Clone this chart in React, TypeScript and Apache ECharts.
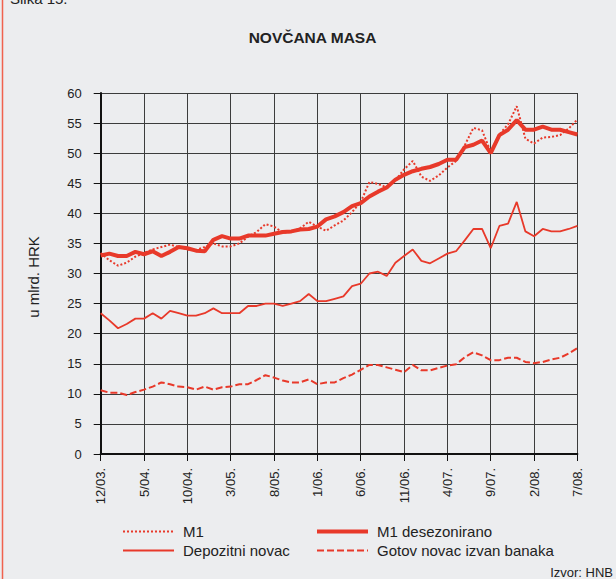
import React, { useEffect, useRef } from "react";
import * as echarts from "echarts";

const CATEGORIES = [
  "12/03.",
  "1/04.", "2/04.", "3/04.", "4/04.", "5/04.", "6/04.", "7/04.", "8/04.", "9/04.", "10/04.", "11/04.", "12/04.",
  "1/05.", "2/05.", "3/05.", "4/05.", "5/05.", "6/05.", "7/05.", "8/05.", "9/05.", "10/05.", "11/05.", "12/05.",
  "1/06.", "2/06.", "3/06.", "4/06.", "5/06.", "6/06.", "7/06.", "8/06.", "9/06.", "10/06.", "11/06.", "12/06.",
  "1/07.", "2/07.", "3/07.", "4/07.", "5/07.", "6/07.", "7/07.", "8/07.", "9/07.", "10/07.", "11/07.", "12/07.",
  "1/08.", "2/08.", "3/08.", "4/08.", "5/08.", "6/08.", "7/08.",
];

const M1 = [
  33.4, 32.2, 31.3, 31.8, 32.8, 33.4, 34.0, 34.4, 34.8, 34.4, 34.0, 33.9, 34.4,
  35.0, 34.5, 34.5, 35.0, 36.1, 36.9, 38.2, 37.8, 36.8, 36.9, 37.5, 38.6,
  37.8, 37.1, 38.0, 38.8, 40.2, 41.9, 45.2, 44.9, 44.3, 45.5, 47.3, 48.7,
  46.1, 45.4, 46.3, 47.6, 48.7, 51.3, 54.2, 53.8, 50.2, 53.1, 54.8, 57.8,
  52.4, 51.6, 52.6, 52.7, 53.0, 54.1, 55.6,
];

const M1_DESEZ = [
  33.0, 33.3, 32.9, 32.9, 33.6, 33.2, 33.7, 32.9, 33.6, 34.4, 34.2, 33.8, 33.7,
  35.6, 36.2, 35.8, 35.8, 36.3, 36.3, 36.3, 36.6, 36.9, 37.0, 37.3, 37.4,
  37.8, 39.0, 39.5, 40.2, 41.2, 41.7, 42.8, 43.6, 44.3, 45.6, 46.4, 47.0,
  47.4, 47.7, 48.2, 48.9, 48.9, 51.0, 51.4, 52.1, 50.0, 53.0, 53.9, 55.5,
  53.9, 53.9, 54.4, 53.9, 53.9, 53.5, 53.1,
];

const DEPOZITNI = [
  23.4, 22.2, 20.9, 21.6, 22.5, 22.5, 23.4, 22.5, 23.8, 23.4, 23.0, 23.0, 23.4,
  24.2, 23.4, 23.4, 23.4, 24.6, 24.6, 25.0, 25.0, 24.6, 25.0, 25.4, 26.6,
  25.4, 25.4, 25.8, 26.2, 27.9, 28.3, 30.0, 30.3, 29.6, 31.8, 32.9, 34.0,
  32.1, 31.7, 32.5, 33.3, 33.7, 35.5, 37.4, 37.4, 34.2, 37.9, 38.3, 41.9,
  37.0, 36.2, 37.4, 37.0, 37.0, 37.4, 37.9,
];

const GOTOV = [
  10.6, 10.2, 10.2, 9.8, 10.3, 10.7, 11.2, 11.9, 11.6, 11.2, 11.1, 10.7, 11.2,
  10.7, 11.1, 11.2, 11.6, 11.6, 12.3, 13.1, 12.7, 12.2, 11.9, 11.9, 12.4,
  11.6, 11.9, 11.9, 12.6, 13.2, 14.0, 14.8, 14.8, 14.4, 14.0, 13.6, 14.8,
  13.9, 13.9, 14.3, 14.7, 14.9, 16.1, 16.9, 16.4, 15.6, 15.6, 16.0, 16.0,
  15.3, 15.1, 15.3, 15.7, 16.0, 16.7, 17.6,
];

const RED = "#E8392A";
const FONT = "'Liberation Sans', Arial, sans-serif";
const TEXT = "#222";
const GRIDC = "#3c3c3c";

const legendBase = {
  orient: "vertical",
  top: 519,
  itemWidth: 51,
  itemHeight: 12,
  itemGap: 4,
  itemStyle: { opacity: 0 },
  textStyle: { fontSize: 15, color: TEXT, fontFamily: FONT, padding: [0, 0, 0, 4] },
};

export default function App() {
  const ref = useRef<HTMLDivElement>(null);

  useEffect(() => {
    if (!ref.current) return;
    const chart = echarts.init(ref.current, null, { renderer: "svg" });
    chart.setOption({
      animation: false,
      backgroundColor: "#ECEDEF",
      textStyle: { fontFamily: FONT },
      grid: { left: 100.7, right: 38.6, top: 93, bottom: 125, containLabel: false },
      graphic: [
        {
          type: "line",
          shape: { x1: 2.5, y1: 0, x2: 2.5, y2: 579 },
          style: { stroke: "#F0624E", lineWidth: 1.5 },
        },
        {
          type: "text",
          x: 10,
          y: 6,
          style: {
            text: "Slika 15.",
            fontSize: 15,
            fontFamily: FONT,
            fill: TEXT,
            align: "left",
            verticalAlign: "bottom",
          },
        },
        {
          type: "text",
          x: 312.5,
          y: 37.5,
          style: {
            text: "NOVČANA MASA",
            fontSize: 15.5,
            fontWeight: "bold",
            fontFamily: FONT,
            fill: TEXT,
            align: "center",
            verticalAlign: "middle",
          },
        },
        {
          type: "text",
          x: 33,
          y: 277,
          rotation: Math.PI / 2,
          style: {
            text: "u mlrd. HRK",
            fontSize: 15,
            fontFamily: FONT,
            fill: TEXT,
            align: "center",
            verticalAlign: "middle",
          },
        },
        {
          type: "text",
          x: 613,
          y: 572,
          style: {
            text: "Izvor: HNB",
            fontSize: 13,
            fontFamily: FONT,
            fill: TEXT,
            align: "right",
            verticalAlign: "middle",
          },
        },
      ],
      legend: [
        {
          ...legendBase,
          left: 117,
          data: [
            { name: "M1", lineStyle: { width: 2 } },
            { name: "Depozitni novac", lineStyle: { width: 2 } },
          ],
        },
        {
          ...legendBase,
          left: 310,
          data: [
            { name: "M1 desezonirano", lineStyle: { width: 4 } },
            { name: "Gotov novac izvan banaka", lineStyle: { width: 2 } },
          ],
        },
      ],
      xAxis: {
        type: "category",
        data: CATEGORIES,
        boundaryGap: false,
        axisLine: { lineStyle: { color: "#111", width: 2 } },
        axisTick: { interval: 4, length: 7, lineStyle: { color: "#111", width: 1 } },
        axisLabel: {
          interval: 4,
          rotate: 90,
          fontSize: 13,
          color: TEXT,
          margin: 14,
          fontFamily: FONT,
        },
        splitLine: { show: true, interval: 4, lineStyle: { color: GRIDC, width: 1 } },
      },
      yAxis: {
        type: "value",
        min: 0,
        max: 60,
        interval: 5,
        axisLine: { show: true, lineStyle: { color: "#111", width: 2 } },
        axisTick: { show: true, length: 7, lineStyle: { color: "#111", width: 1 } },
        axisLabel: { fontSize: 13, color: TEXT, margin: 19, fontFamily: FONT },
        splitLine: { show: true, lineStyle: { color: GRIDC, width: 1 } },
      },
      series: [
        {
          name: "M1",
          type: "line",
          data: M1,
          symbol: "none",
          lineStyle: { color: RED, width: 2, type: [2, 2] },
          itemStyle: { color: RED },
        },
        {
          name: "M1 desezonirano",
          type: "line",
          data: M1_DESEZ,
          symbol: "none",
          lineStyle: { color: RED, width: 4 },
          itemStyle: { color: RED },
        },
        {
          name: "Depozitni novac",
          type: "line",
          data: DEPOZITNI,
          symbol: "none",
          lineStyle: { color: RED, width: 1.8 },
          itemStyle: { color: RED },
        },
        {
          name: "Gotov novac izvan banaka",
          type: "line",
          data: GOTOV,
          symbol: "none",
          lineStyle: { color: RED, width: 2, type: [7, 3] },
          itemStyle: { color: RED },
        },
      ],
    });
    return () => chart.dispose();
  }, []);

  return (
    <div style={{ position: "fixed", left: 0, top: 0, width: 616, height: 579, background: "#ECEDEF" }}>
      <div ref={ref} style={{ width: 616, height: 579 }} />
    </div>
  );
}
